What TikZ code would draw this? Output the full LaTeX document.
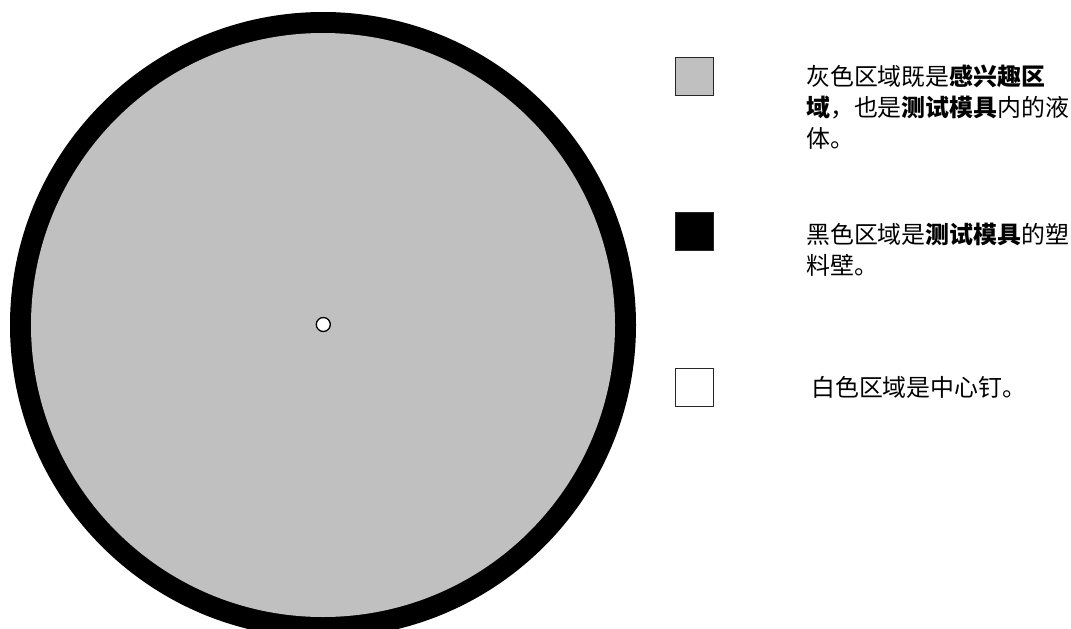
\documentclass[tikz,border=0pt]{standalone}
\usepackage{fontspec}
\newfontfamily\cjk{Noto Sans CJK SC}
\definecolor{roigray}{RGB}{192,192,192}
\begin{document}
\begin{tikzpicture}[x=1pt,y=-1pt,
  legendbox/.style={draw=black!85,line width=1pt,minimum size=38pt,inner sep=0pt},
  legendtext/.style={anchor=north west,inner sep=0pt,align=left,font=\cjk\fontsize{23.9}{31}\selectfont}]
\useasboundingbox (0,0) rectangle (1071,629);
\clip (0,0) rectangle (1071,629);
\fill[black] (323,325) circle (313);
\fill[roigray] (323,325) circle (292);
\node[circle,draw=black,fill=white,line width=1.3pt,minimum size=14pt,inner sep=0pt] (pin) at (323.3,324.5) {};
% legend
\node[legendbox,fill=roigray] (sqgray) at (694.5,76.5) {};
\node[legendbox,fill=black] (sqblack) at (694.5,231.5) {};
\node[legendbox,fill=white] (sqwhite) at (694.5,387.5) {};
\node[legendtext] (txgray) at (806,65) {灰色区域既是\textbf{感兴趣区}\\\textbf{域}，也是\textbf{测试模具}内的液\\体。};
\node[legendtext] (txblack) at (806,223) {黑色区域是\textbf{测试模具}的塑\\料壁。};
\node[legendtext] (txwhite) at (811,376) {白色区域是中心钉。};
\end{tikzpicture}
\end{document}
